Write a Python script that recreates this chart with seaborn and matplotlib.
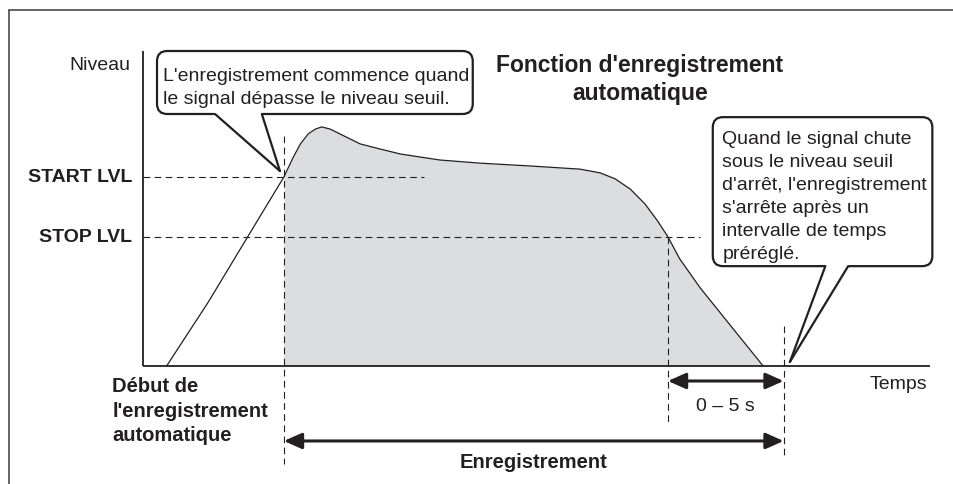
import matplotlib
matplotlib.use('Agg')  # no display
import matplotlib.pyplot as plt
from matplotlib.patches import FancyBboxPatch, Polygon
from matplotlib.lines import Line2D
import numpy as np
import seaborn as sns

# Signal envelope (time 0-100 along the axis, level 0-100)
time = [3.0, 8.3, 13.2, 17.9, 19.1, 20.0, 21.0, 21.9, 22.7, 23.8, 25.0, 27.6,
        30.1, 32.7, 37.7, 42.8, 49.2, 55.5, 58.1, 60.0, 61.9, 63.8, 65.4,
        66.7, 68.2, 70.8, 74.6, 78.8]
level = [0.0, 20.3, 40.6, 60.0, 66.3, 70.5, 73.7, 75.2, 75.9, 75.2, 73.7, 70.5,
         68.9, 67.3, 65.4, 64.4, 63.5, 62.5, 61.3, 59.4, 56.2, 51.4, 46.0,
         41.0, 34.0, 24.8, 13.0, 0.0]

# thresholds and key instants
START_LVL = 60.0
STOP_LVL = 41.0
REC_START = 17.9    # signal crosses START LVL
STOP_CROSS = 66.7   # signal crosses STOP LVL
REC_END = 81.4      # end of the preset delay

level_labels = ['START LVL', 'STOP LVL']
level_values = [START_LVL, STOP_LVL]

TITLE = "Fonction d'enregistrement\nautomatique"
NOTE_START = ["L'enregistrement commence quand", "le signal dépasse le niveau seuil."]
NOTE_STOP = ["Quand le signal chute", "sous le niveau seuil", "d'arrêt, l'enregistrement",
             "s'arrête après un", "intervalle de temps", "préréglé."]
AUTO_LABEL = "Début de\nl'enregistrement\nautomatique"
DELAY_LABEL = "0 – 5 s"
REC_LABEL = "Enregistrement"

INK = '#231f20'
FILL = '#dcdddf'

# pixel scale of the drawing (origin of the axes at px 143, 367)
PX_T = 7.87
PX_L = 3.15
W, H = 954, 485
OX, OY = 143, 367

sns.set_theme(style='white')
plt.rcParams['font.family'] = ['Liberation Sans', 'DejaVu Sans']
plt.rcParams['text.color'] = INK

fig = plt.figure(figsize=(W / 100, H / 100), dpi=100)
ax = fig.add_axes([0, 0, 1, 1])
ax.set_xlim(-OX / PX_T, (W - OX) / PX_T)
ax.set_ylim(-(H - OY) / PX_L, OY / PX_L)
ax.axis('off')

# outer frame (left and top only)
fig.add_artist(Line2D([9 / W, 9 / W], [0, 1 - 11 / H], transform=fig.transFigure, color='#3a3a3a', lw=1.1))
fig.add_artist(Line2D([9 / W, 1], [1 - 11 / H, 1 - 11 / H], transform=fig.transFigure, color='#3a3a3a', lw=1.1))

t = np.array(time)
lv = np.array(level)

# recording area and signal
ax.fill_between(t, lv, 0, where=t >= REC_START, color=FILL, lw=0, zorder=1)
sns.lineplot(x=time, y=level, sort=False, estimator=None, color=INK, lw=0.9, ax=ax, zorder=3)

# axes
ax.plot([0, 0], [0, 100], color=INK, lw=1.3, zorder=4, solid_capstyle='butt')
ax.plot([0, 100], [0, 0], color=INK, lw=1.3, zorder=4, solid_capstyle='butt')

dash = dict(color=INK, lw=0.8, ls=(0, (6, 4)), zorder=2)
ax.plot([0, 35.7], [START_LVL, START_LVL], **dash)
ax.plot([0, 70.8], [STOP_LVL, STOP_LVL], **dash)
ax.plot([REC_START, REC_START], [73, -31.1], **dash)
ax.plot([STOP_CROSS, STOP_CROSS], [STOP_LVL, -18.4], **dash)
ax.plot([REC_END, REC_END], [12.7, -29.5], **dash)

# labels on the axes
ax.text(-1.65, 95.6, 'Niveau', ha='right', va='center', fontsize=14)
for lab, val in zip(level_labels, level_values):
    ax.text(-1.4, val, lab, ha='right', va='center', fontsize=14, fontweight='bold')
ax.text(99.7, -5.4, 'Temps', ha='right', va='center', fontsize=14)
ax.text(-3.9, -3.2, AUTO_LABEL, ha='left', va='top', fontsize=14.5, fontweight='bold',
        multialignment='left', linespacing=1.38)
ax.text(63.15, 91.2, TITLE, ha='center', va='center', fontsize=16.5, fontweight='bold',
        multialignment='center', linespacing=1.25)

# arrows below the time axis
arrow = dict(arrowstyle='<|-|>,head_length=0.9,head_width=0.4', lw=2.2, color=INK,
             shrinkA=0, shrinkB=0, mutation_scale=12)
ax.annotate('', xy=(REC_END, -4.76), xytext=(STOP_CROSS, -4.76), arrowprops=arrow)
ax.annotate('', xy=(REC_END, -23.8), xytext=(REC_START, -23.8), arrowprops=arrow)
ax.text((STOP_CROSS + REC_END) / 2, -12.4, DELAY_LABEL, ha='center', va='center', fontsize=14)
ax.text((REC_START + REC_END) / 2, -30.2, REC_LABEL, ha='center', va='center', fontsize=14.5, fontweight='bold')

LINE_STEP = 23 / PX_L  # 23 px between text lines


def callout(x0, x1, y0, y1, base, tip, lines, tx, ty):
    box = FancyBboxPatch((x0, y0), x1 - x0, y1 - y0,
                         boxstyle='round,pad=0,rounding_size=1.3',
                         mutation_aspect=PX_T / PX_L, fc='white', ec=INK, lw=1.6, zorder=5)
    ax.add_patch(box)
    eps = 1.5
    pts = []
    for bx in base:
        dx, dy = bx - tip[0], y0 - tip[1]
        k = eps / dy
        pts.append((bx + dx * k, y0 + eps))
    ax.add_patch(Polygon(pts + [tip], closed=True, fc='white', ec='none', zorder=6))
    for bx in base:
        ax.plot([bx, tip[0]], [y0, tip[1]], color=INK, lw=1.6, zorder=7, solid_capstyle='round')
    # one text per line, first line at ty
    for i, line in enumerate(lines):
        ax.text(tx, ty - i * LINE_STEP, line, ha='left', va='baseline', fontsize=14, zorder=8)


# ty = baseline of first line
callout(1.78, 41.9, 80.0, 100.0, (9.15, 15.1), (17.4, 61.9), NOTE_START, 2.6, (OY - 81) / PX_L)
callout(72.4, 100.3, 31.7, 79.0, (86.7, 89.6), (82.2, 1.3), NOTE_STOP, 73.6, (OY - 144) / PX_L)

fig.savefig('out.png', dpi=100, facecolor='white')
